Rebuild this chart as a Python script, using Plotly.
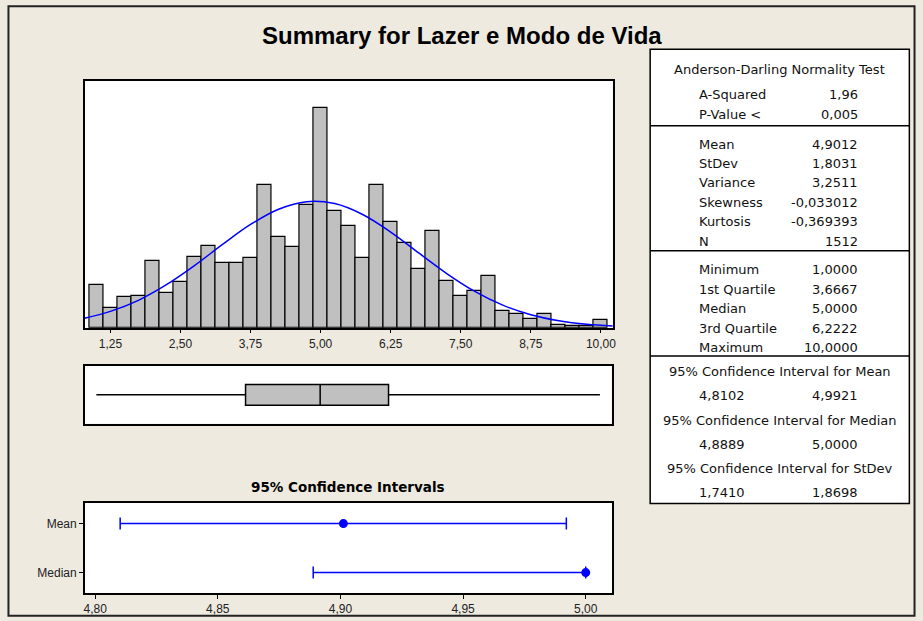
"""Graphical summary (Minitab style) for 'Lazer e Modo de Vida' rebuilt with plotly."""

import plotly.graph_objects as go

# ── data ────────────────────────────────────────────────────────────────────
bin_centers = [1.00, 1.25, 1.50, 1.75, 2.00, 2.25, 2.50, 2.75, 3.00, 3.25,
               3.50, 3.75, 4.00, 4.25, 4.50, 4.75, 5.00, 5.25, 5.50, 5.75,
               6.00, 6.25, 6.50, 6.75, 7.00, 7.25, 7.50, 7.75, 8.00, 8.25,
               8.50, 8.75, 9.00, 9.25, 9.50, 9.75, 10.00]
bin_counts = [28, 13, 20, 21, 44, 23, 30, 47, 54, 43,
              43, 46, 94, 60, 53, 81, 145, 77, 67, 46,
              94, 70, 56, 39, 64, 31, 21, 24, 34, 11,
              9, 6, 9, 2, 1, 1, 5]

# fitted normal curve
curve_x = [0.75, 1.25, 1.75, 2.25, 2.75, 3.25, 3.75, 4.25, 4.75, 5.25,
           5.75, 6.25, 6.75, 7.25, 7.75, 8.25, 8.75, 9.25, 9.75, 10.25]
curve_y = [5.9, 10.8, 18.1, 28.4, 41.0, 55.0, 68.2, 78.3, 83.3, 82.0,
           74.8, 63.2, 49.4, 35.8, 24.0, 14.9, 8.6, 4.6, 2.2, 1.0]

hist_ticks = [1.25, 2.50, 3.75, 5.00, 6.25, 7.50, 8.75, 10.00]
ci_ticks = [4.80, 4.85, 4.90, 4.95, 5.00]

ad_labels = ["A-Squared", "P-Value <"]
ad_values = ["1,96", "0,005"]

moment_labels = ["Mean", "StDev", "Variance", "Skewness", "Kurtosis", "N"]
moment_values = ["4,9012", "1,8031", "3,2511", "-0,033012", "-0,369393", "1512"]

quant_labels = ["Minimum", "1st Quartile", "Median", "3rd Quartile", "Maximum"]
quant_values = [1.0, 3.6667, 5.0, 6.2222, 10.0]

ci_headers = ["95% Confidence Interval for Mean",
              "95% Confidence Interval for Median",
              "95% Confidence Interval for StDev"]
ci_low = [4.8102, 4.8889, 1.7410]
ci_high = [4.9921, 5.0000, 1.8698]

ci_names = ["Mean", "Median"]
ci_points = [4.9012, 5.0000]

# ── layout helpers ──────────────────────────────────────────────────────────
W, H = 923, 621
BG = "#EEEAE0"
TXT = "#111111"


def px(x):
    return x / W


def py(y):
    return 1 - y / H


def comma(v, nd=4):
    return f"{v:.{nd}f}".replace(".", ",")


fig = go.Figure()

# histogram + normal curve
fig.add_trace(go.Bar(
    x=bin_centers, y=bin_counts, width=0.25,
    marker=dict(color="#C0C0C0", line=dict(color="#000000", width=1.2)),
    xaxis="x", yaxis="y", showlegend=False, hoverinfo="x+y",
))
fig.add_trace(go.Scatter(
    x=curve_x, y=curve_y, mode="lines", line=dict(color="#0000FF", width=1.5, shape="spline"),
    xaxis="x", yaxis="y", showlegend=False,
))

# boxplot
fig.add_trace(go.Box(
    y=[0], q1=[quant_values[1]], median=[quant_values[2]], q3=[quant_values[3]],
    lowerfence=[quant_values[0]], upperfence=[quant_values[4]],
    orientation="h", width=0.36, whiskerwidth=0,
    fillcolor="#C0C0C0", line=dict(color="#000000", width=1.5),
    xaxis="x2", yaxis="y2", showlegend=False,
))

# confidence intervals (mean, median)
for i, name in enumerate(ci_names):
    fig.add_trace(go.Scatter(
        x=[ci_points[i]], y=[name], mode="markers",
        marker=dict(color="#0000FF", size=9),
        error_x=dict(type="data", symmetric=False,
                     array=[ci_high[i] - ci_points[i]],
                     arrayminus=[ci_points[i] - ci_low[i]],
                     color="#0000FF", thickness=1.5, width=6),
        xaxis="x3", yaxis="y3", showlegend=False,
    ))

frame = dict(showline=True, mirror=True, linecolor="#000000", linewidth=1.5,
             showgrid=False, zeroline=False)
tickfont = dict(family="Liberation Sans, Arial", size=12, color="#222222")

fig.update_layout(
    width=W, height=H,
    margin=dict(l=0, r=0, t=0, b=0),
    paper_bgcolor=BG, plot_bgcolor="#FFFFFF",
    separators=",.",
    bargap=0,
    xaxis=dict(domain=[px(84), px(615)], range=[0.789, 10.21], anchor="y",
               tickvals=hist_ticks, tickformat=".2f", ticks="outside",
               ticklen=4, tickcolor="#000000", tickfont=tickfont, **frame),
    yaxis=dict(domain=[py(327.7), py(81)], range=[0, 163], anchor="x",
               showticklabels=False, ticks="", **frame),
    xaxis2=dict(domain=[px(84), px(614)], range=[0.789, 10.21], anchor="y2",
                showticklabels=False, ticks="", **frame),
    yaxis2=dict(domain=[py(423.7), py(366)], range=[-0.5, 0.5], anchor="x2",
                showticklabels=False, ticks="", **frame),
    xaxis3=dict(domain=[px(84.3), px(614.3)], range=[4.7958, 5.0107], anchor="y3",
                tickvals=ci_ticks, tickformat=".2f", ticks="outside",
                ticklen=4, tickcolor="#000000", tickfont=tickfont, **frame),
    yaxis3=dict(domain=[py(593.2), py(502.5)], type="category", anchor="x3",
                categoryorder="array", categoryarray=["Median", "Mean"],
                range=[-0.42, 1.43], ticks="outside", ticklen=4,
                tickcolor="#000000", tickfont=tickfont, **frame),
)

# ── frames, table boxes ─────────────────────────────────────────────────────
shapes = [
    dict(type="rect", xref="paper", yref="paper",
         x0=px(7.5), x1=px(918.5), y0=py(615.7), y1=py(6.3),
         line=dict(color="#222222", width=2), layer="below"),
    dict(type="rect", xref="paper", yref="paper",
         x0=px(652.7), x1=px(913.3), y0=py(503.5), y1=py(49.3),
         fillcolor="#FFFFFF", line=dict(color="#000000", width=1.5), layer="below"),
]
for sep in [125.7, 250.7, 356]:
    shapes.append(dict(type="line", xref="paper", yref="paper",
                       x0=px(652.7), x1=px(913.3), y0=py(sep), y1=py(sep),
                       line=dict(color="#000000", width=1.5)))
fig.update_layout(shapes=shapes)

# ── text ────────────────────────────────────────────────────────────────────
tfont = dict(family="DejaVu Sans", size=13, color=TXT)
ann = []


def add_text(x, y, text, anchor="left", font=tfont):
    ann.append(dict(x=px(x), y=py(y), xref="paper", yref="paper", text=text,
                    xanchor=anchor, yanchor="middle", showarrow=False, font=font))


add_text(464, 35, "<b>Summary for Lazer e Modo de Vida</b>", "center",
         dict(family="Liberation Sans, Arial", size=24, color="#000000"))
add_text(349, 487, "<b>95% Confidence Intervals</b>", "center",
         dict(family="DejaVu Sans", size=13.5, color="#000000"))

LX, RX, CX = 700, 864, 783
add_text(CX, 69.3, "Anderson-Darling Normality Test", "center")
for lab, val, y in zip(ad_labels, ad_values, [94.3, 115]):
    add_text(LX, y, lab)
    add_text(RX, y, val, "right")

for i, (lab, val) in enumerate(zip(moment_labels, moment_values)):
    y = 144.3 + i * 19.35
    add_text(LX, y, lab)
    add_text(RX, y, val, "right")

for i, (lab, val) in enumerate(zip(quant_labels, quant_values)):
    y = 270 + i * 19.4
    add_text(LX, y, lab)
    add_text(RX, y, comma(val), "right")

for i, head in enumerate(ci_headers):
    y = 371.7 + i * 48.3
    add_text(CX, y, head, "center")
    add_text(LX, y + 24.3, comma(ci_low[i]))
    add_text(RX, y + 24.3, comma(ci_high[i]), "right")

fig.update_layout(annotations=ann)

# the page body has a default 8px margin; drop it so the figure sits at 0,0
fig.write_html("out.html", config={"displayModeBar": False},
               post_script="document.body.style.margin='0';")
